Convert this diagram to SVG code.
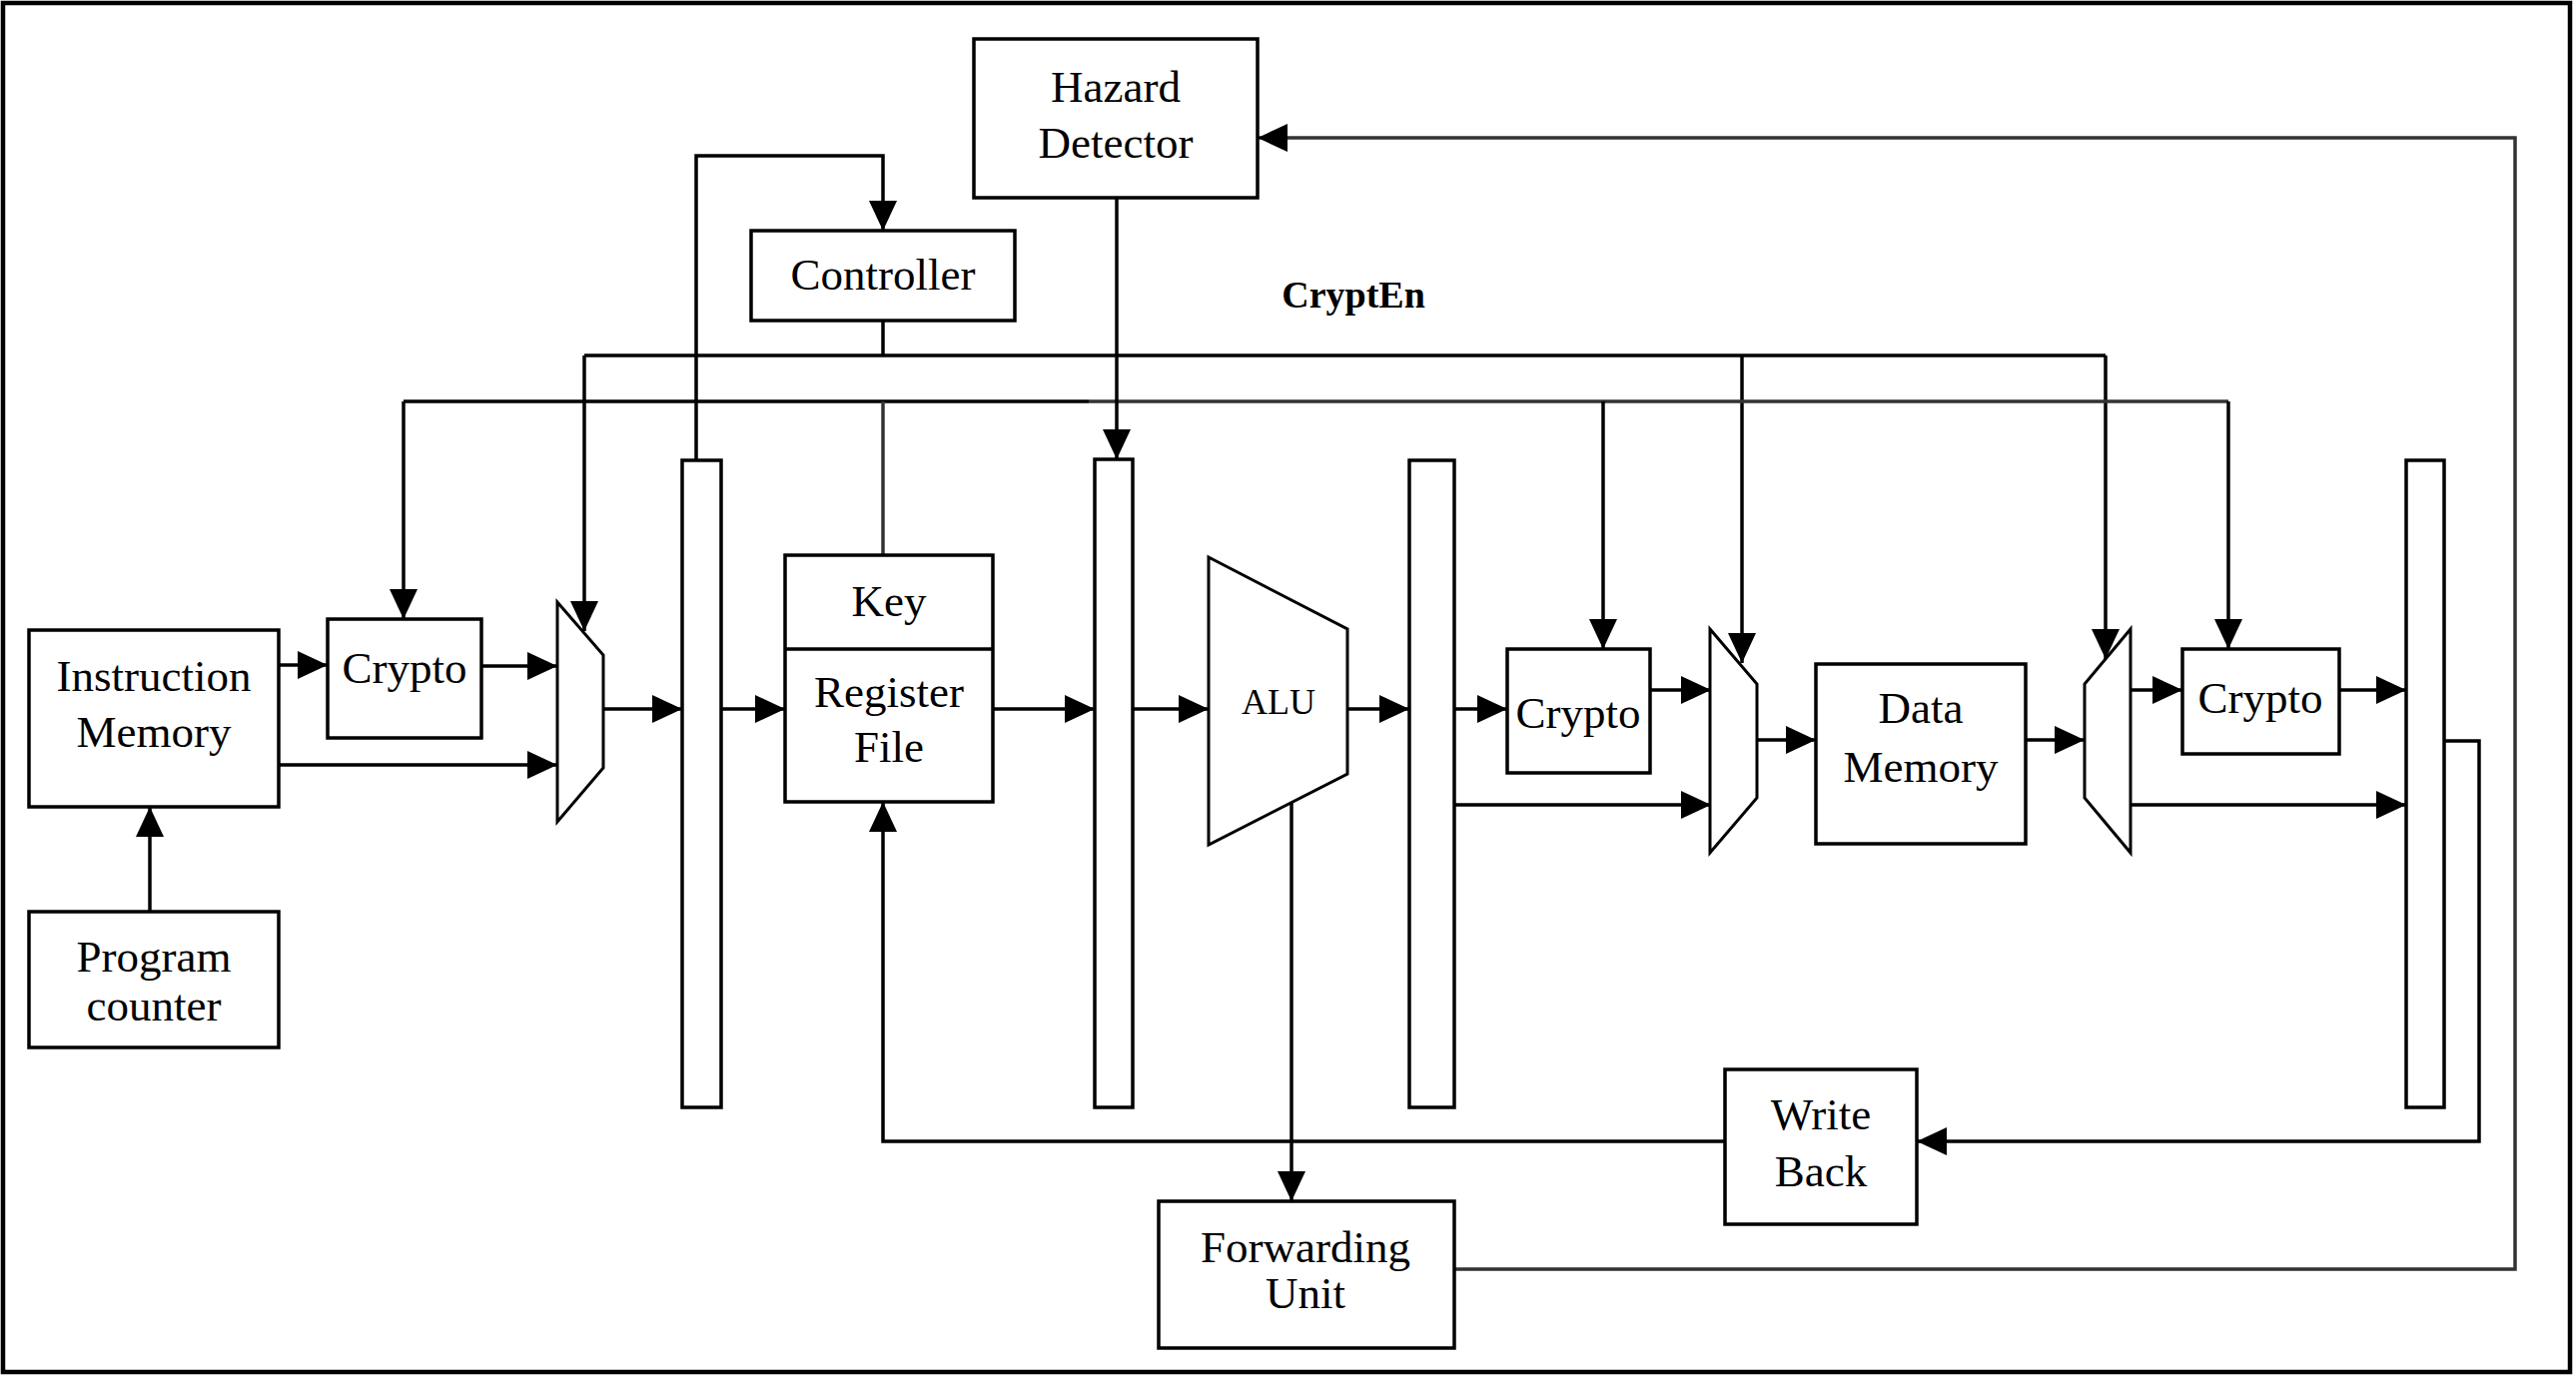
<svg xmlns="http://www.w3.org/2000/svg" width="2579" height="1379" viewBox="0 0 2579 1379">
<defs>
<style>
.box{fill:#fff;stroke:#000;stroke-width:3.5}
.reg{fill:#fff;stroke:#000;stroke-width:3.5}
.mux{fill:#fff;stroke:#000;stroke-width:3}
.ln{fill:none;stroke:#000;stroke-width:3.5}
.lg{fill:none;stroke:#333;stroke-width:3.5}
.ar{marker-end:url(#ah)}
text{font-family:"Liberation Serif","Times New Roman",serif;font-size:45px;fill:#000;text-anchor:middle}
.sm{font-size:36px}
.bold{font-weight:bold;font-size:38px}
</style>
<marker id="ah" markerUnits="userSpaceOnUse" markerWidth="30" markerHeight="28" refX="30" refY="14" orient="auto">
<path d="M0,0 L30,14 L0,28 z" fill="#000"/>
</marker>
</defs>
<rect x="0" y="0" width="2579" height="1379" fill="#fff"/>
<rect x="3" y="3" width="2570" height="1371" fill="none" stroke="#000" stroke-width="4.5"/>

<g id="connectors">
<!-- loop from reg1 to controller -->
<polyline class="ln ar" points="697,461 697,156 884,156 884,231"/>
<!-- controller stub to CryptEn bus -->
<line class="ln" x1="884" y1="321" x2="884" y2="356"/>
<!-- bus 1 -->
<line class="ln" x1="585" y1="356" x2="2108" y2="356"/>
<line class="ln ar" x1="585" y1="356" x2="585" y2="632"/>
<line class="ln ar" x1="1744" y1="356" x2="1744" y2="664"/>
<line class="ln ar" x1="2108" y1="356" x2="2108" y2="660"/>
<!-- bus 2 -->
<line class="ln" x1="404" y1="402" x2="1090" y2="402"/>
<line class="lg" x1="1090" y1="402" x2="2231" y2="402"/>
<line class="ln ar" x1="404" y1="402" x2="404" y2="620"/>
<line class="ln ar" x1="1605" y1="402" x2="1605" y2="650"/>
<line class="ln ar" x1="2231" y1="402" x2="2231" y2="650"/>
<!-- key line -->
<line class="lg" x1="884" y1="402" x2="884" y2="556"/>
<!-- hazard detector to reg2 -->
<line class="ln ar" x1="1118" y1="198" x2="1118" y2="460"/>
<!-- IF stage -->
<line class="ln ar" x1="150" y1="913" x2="150" y2="808"/>
<line class="ln ar" x1="279" y1="666" x2="328" y2="666"/>
<line class="ln ar" x1="482" y1="667" x2="558" y2="667"/>
<line class="ln ar" x1="279" y1="766" x2="558" y2="766"/>
<line class="ln ar" x1="604" y1="710" x2="683" y2="710"/>
<line class="ln ar" x1="722" y1="710" x2="786" y2="710"/>
<!-- ID / EX -->
<line class="ln ar" x1="994" y1="710" x2="1096" y2="710"/>
<line class="ln ar" x1="1134" y1="710" x2="1210" y2="710"/>
<line class="ln ar" x1="1349" y1="710" x2="1411" y2="710"/>
<line class="ln ar" x1="1293" y1="804" x2="1293" y2="1203"/>
<!-- MEM -->
<line class="ln ar" x1="1456" y1="710" x2="1509" y2="710"/>
<line class="ln ar" x1="1652" y1="691" x2="1713" y2="691"/>
<line class="ln ar" x1="1456" y1="806" x2="1713" y2="806"/>
<line class="ln ar" x1="1759" y1="741" x2="1818" y2="741"/>
<line class="ln ar" x1="2028" y1="741" x2="2087" y2="741"/>
<line class="ln ar" x1="2133" y1="691" x2="2185" y2="691"/>
<line class="ln ar" x1="2342" y1="691" x2="2409" y2="691"/>
<line class="ln ar" x1="2133" y1="806" x2="2409" y2="806"/>
<!-- WB -->
<polyline class="ln ar" points="2447,742 2482,742 2482,1143 1919,1143"/>
<polyline class="ln ar" points="1727,1143 884,1143 884,803"/>
<!-- forwarding to hazard -->
<polyline class="lg ar" points="1456,1271 2518,1271 2518,138 1259,138"/>
</g>

<g id="hazard-detector">
<rect class="box" x="975" y="39" width="284" height="159"/>
<text x="1117" y="102">Hazard</text>
<text x="1117" y="158">Detector</text>
</g>
<g id="controller">
<rect class="box" x="752" y="231" width="264" height="90"/>
<text x="884" y="290">Controller</text>
</g>
<g id="cryptEn-label">
<text class="bold" x="1355" y="308">CryptEn</text>
</g>
<g id="instruction-memory">
<rect class="box" x="29" y="631" width="250" height="177"/>
<text x="154" y="692">Instruction</text>
<text x="154" y="748">Memory</text>
</g>
<g id="program-counter">
<rect class="box" x="29" y="913" width="250" height="136"/>
<text x="154" y="973">Program</text>
<text x="154" y="1022">counter</text>
</g>
<g id="crypto1">
<rect class="box" x="328" y="620" width="154" height="119"/>
<text x="405" y="684">Crypto</text>
</g>
<g id="mux1">
<path class="mux" d="M558,603 L604,656 L604,769 L558,823 Z"/>
</g>
<g id="pipe-reg1">
<rect class="reg" x="683" y="461" width="39" height="648"/>
</g>
<g id="key-register-file">
<rect class="box" x="786" y="556" width="208" height="247"/>
<line class="ln" x1="786" y1="650" x2="994" y2="650"/>
<text x="890" y="617">Key</text>
<text x="890" y="708">Register</text>
<text x="890" y="763">File</text>
</g>
<g id="pipe-reg2">
<rect class="reg" x="1096" y="460" width="38" height="649"/>
</g>
<g id="alu">
<path class="mux" d="M1210,558 L1349,630 L1349,775 L1210,846 Z"/>
<text class="sm" x="1280" y="715">ALU</text>
</g>
<g id="pipe-reg3">
<rect class="reg" x="1411" y="461" width="45" height="648"/>
</g>
<g id="crypto2">
<rect class="box" x="1509" y="650" width="143" height="124"/>
<text x="1580" y="729">Crypto</text>
</g>
<g id="mux2">
<path class="mux" d="M1712,630 L1759,685 L1759,799 L1712,854 Z"/>
</g>
<g id="data-memory">
<rect class="box" x="1818" y="665" width="210" height="180"/>
<text x="1923" y="724">Data</text>
<text x="1923" y="783">Memory</text>
</g>
<g id="mux3">
<path class="mux" d="M2133,630 L2087,685 L2087,799 L2133,854 Z"/>
</g>
<g id="crypto3">
<rect class="box" x="2185" y="650" width="157" height="105"/>
<text x="2263" y="714">Crypto</text>
</g>
<g id="pipe-reg4">
<rect class="reg" x="2409" y="461" width="38" height="648"/>
</g>
<g id="write-back">
<rect class="box" x="1727" y="1071" width="192" height="155"/>
<text x="1823" y="1131">Write</text>
<text x="1823" y="1188">Back</text>
</g>
<g id="forwarding-unit">
<rect class="box" x="1160" y="1203" width="296" height="147"/>
<text x="1307" y="1264">Forwarding</text>
<text x="1307" y="1310">Unit</text>
</g>
</svg>
